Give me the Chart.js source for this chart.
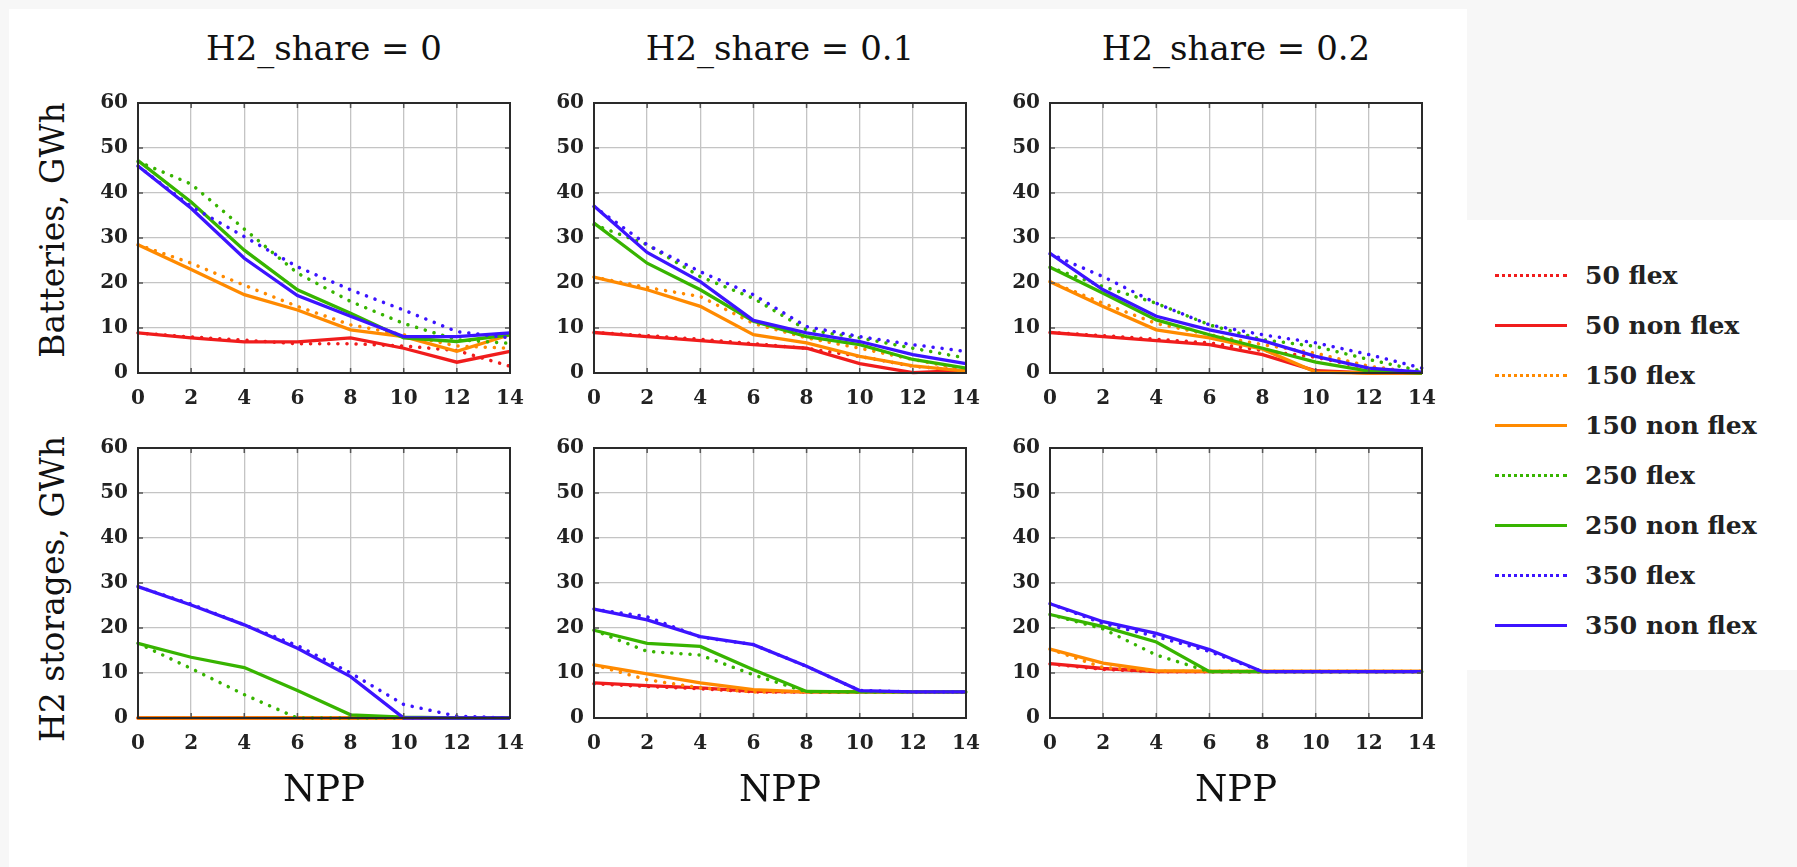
<!DOCTYPE html>
<html>
<head>
<meta charset="utf-8">
<script src="https://cdn.jsdelivr.net/npm/chart.js@4.4.1/dist/chart.umd.min.js"></script>
<style>
  body { margin: 0; background: #f7f7f7; width: 1797px; height: 867px; overflow: hidden; position: relative; font-family: "DejaVu Serif", serif; }
  #sheet { position: absolute; left: 9px; top: 9px; width: 1458px; height: 858px; background: #fff; }
  #legendBox { position: absolute; left: 1467px; top: 220px; width: 330px; height: 450px; background: #fff; }
  .panel { position: absolute; }
  .title { position: absolute; font-size: 34px; color: #111; transform: translate(-50%, -50%); white-space: nowrap; }
  .npp { position: absolute; font-size: 37px; color: #111; transform: translate(-50%, -50%); white-space: nowrap; }
  .ytitle { position: absolute; font-size: 33px; color: #111; transform: translate(-50%, -50%) rotate(-90deg); white-space: nowrap; }
  .legItem { position: absolute; left: 1495px; height: 30px; display: flex; align-items: center; font-size: 25px; font-weight: bold; color: #222; }
  .legLine { width: 72px; margin-right: 18px; }
</style>
</head>
<body>
<div id="sheet"></div>
<div id="legendBox"></div>
<div id="root"></div>
<script>
// x values (NPP) and labels
const npp = [0, 2, 4, 6, 8, 10, 12, 14];
const seriesNames = ['50 flex', '50 non flex', '150 flex', '150 non flex', '250 flex', '250 non flex', '350 flex', '350 non flex'];
const seriesColors = ['#f01c1c', '#f01c1c', '#ff8a00', '#ff8a00', '#37b400', '#37b400', '#3c14ff', '#3c14ff'];
const shareTitles = ['H2_share = 0', 'H2_share = 0.1', 'H2_share = 0.2'];
const rowTitles = ['Batteries, GWh', 'H2 storages, GWh'];
const yTicks = [0, 10, 20, 30, 40, 50, 60];

// Batteries, GWh  (rows: 50 flex, 50 non flex, 150 flex, 150 non flex, 250 flex, 250 non flex, 350 flex, 350 non flex)
const battH0 = [
  [8.9, 8.0, 7.3, 6.5, 6.5, 6.0, 5.0, 1.5],
  [8.9, 7.8, 6.9, 6.9, 7.8, 5.5, 2.4, 4.8],
  [28.5, 24.4, 19.5, 14.8, 10.7, 8.5, 6.0, 5.5],
  [28.5, 23.0, 17.4, 14.0, 9.6, 8.1, 4.8, 8.5],
  [47.0, 42.0, 32.0, 22.2, 15.9, 11.0, 7.4, 6.6],
  [47.2, 38.0, 27.3, 18.5, 13.3, 7.8, 7.0, 8.5],
  [46.0, 37.0, 30.3, 23.6, 18.5, 14.0, 9.2, 7.8],
  [46.0, 36.6, 25.5, 17.2, 12.6, 8.1, 8.1, 8.9]
];
const battH1 = [
  [9.0, 8.3, 7.5, 6.5, 5.5, 3.7, 1.5, 0.5],
  [9.0, 8.1, 7.2, 6.3, 5.5, 2.1, 0.1, 0.6],
  [21.3, 19.0, 17.0, 11.0, 7.8, 5.5, 3.0, 0.7],
  [21.3, 18.5, 14.8, 8.5, 6.7, 3.7, 1.6, 0.4],
  [33.0, 28.5, 21.4, 16.6, 9.6, 7.8, 5.5, 3.3],
  [33.3, 24.4, 18.5, 11.5, 8.1, 6.3, 3.0, 1.1],
  [37.0, 28.5, 22.5, 17.4, 10.3, 8.1, 6.3, 4.8],
  [37.1, 26.8, 20.3, 11.7, 8.9, 7.0, 4.1, 2.1]
];
const battH2 = [
  [9.0, 8.3, 7.5, 6.7, 5.0, 3.5, 1.0, 0.0],
  [9.0, 8.1, 7.2, 6.3, 4.1, 0.5, 0.0, 0.0],
  [20.3, 15.5, 11.0, 8.5, 6.3, 4.4, 1.5, 0.0],
  [20.3, 14.8, 9.6, 7.8, 5.3, 0.2, 0.0, 0.0],
  [23.5, 19.2, 15.5, 10.7, 7.4, 5.9, 3.0, 0.4],
  [23.5, 17.7, 11.8, 8.5, 5.5, 2.4, 0.4, 0.0],
  [26.5, 21.4, 15.5, 10.7, 8.5, 6.7, 4.1, 1.1],
  [26.6, 18.5, 12.6, 9.6, 7.2, 3.7, 1.1, 0.2]
];

// H2 storages, GWh
const h2H0 = [
  [0, 0, 0, 0, 0, 0, 0, 0],
  [0, 0, 0, 0, 0, 0, 0, 0],
  [0, 0, 0, 0, 0, 0, 0, 0],
  [0, 0, 0, 0, 0, 0, 0, 0],
  [16.6, 11.0, 5.2, 0, 0, 0, 0, 0],
  [16.6, 13.5, 11.2, 6.1, 0.7, 0.2, 0, 0],
  [29.2, 25.3, 20.7, 16.1, 10.0, 3.0, 0.4, 0],
  [29.2, 25.1, 20.7, 15.5, 9.2, 0, 0, 0]
];
const h2H1 = [
  [7.6, 7.0, 6.5, 5.8, 5.8, 5.8, 5.8, 5.8],
  [7.8, 7.2, 6.7, 5.9, 5.8, 5.8, 5.8, 5.8],
  [11.8, 8.5, 6.7, 5.8, 5.8, 5.8, 5.8, 5.8],
  [11.8, 9.8, 7.8, 6.3, 5.8, 5.8, 5.8, 5.8],
  [19.5, 14.8, 14.0, 9.6, 5.8, 5.8, 5.8, 5.8],
  [19.5, 16.6, 15.9, 10.7, 5.9, 5.8, 5.8, 5.8],
  [24.2, 22.5, 18.0, 16.3, 11.5, 6.1, 5.8, 5.8],
  [24.2, 21.8, 18.1, 16.3, 11.5, 6.1, 5.8, 5.8]
];
const h2H2 = [
  [12.0, 10.8, 10.3, 10.3, 10.3, 10.3, 10.3, 10.3],
  [12.1, 11.0, 10.3, 10.3, 10.3, 10.3, 10.3, 10.3],
  [15.3, 11.2, 10.4, 10.4, 10.4, 10.4, 10.4, 10.4],
  [15.3, 12.2, 10.5, 10.4, 10.4, 10.4, 10.4, 10.4],
  [23.0, 19.8, 14.0, 10.3, 10.3, 10.3, 10.3, 10.3],
  [23.0, 20.3, 16.9, 10.3, 10.3, 10.3, 10.3, 10.3],
  [25.4, 21.0, 18.1, 14.8, 10.3, 10.3, 10.3, 10.3],
  [25.4, 21.4, 18.8, 15.2, 10.3, 10.3, 10.3, 10.3]
];

const panels = [[battH0, battH1, battH2], [h2H0, h2H1, h2H2]];

// layout of the plot areas
const plotLeft = [138, 594, 1050];
const plotTop = [103, 448];
const plotW = 372, plotH = 270;
const padL = 52, padT = 14, padR = 22, padB = 50;

const root = document.getElementById('root');

// frame + inner tick marks, like pgfplots
const framePlugin = {
  id: 'frame',
  afterDraw(chart) {
    const { ctx, chartArea: a, scales } = chart;
    ctx.save();
    ctx.strokeStyle = '#555';
    ctx.lineWidth = 1.5;
    ctx.beginPath();
    scales.x.ticks.forEach(t => {
      const px = scales.x.getPixelForValue(t.value);
      ctx.moveTo(px, a.bottom); ctx.lineTo(px, a.bottom - 5);
      ctx.moveTo(px, a.top); ctx.lineTo(px, a.top + 5);
    });
    scales.y.ticks.forEach(t => {
      const py = scales.y.getPixelForValue(t.value);
      ctx.moveTo(a.left, py); ctx.lineTo(a.left + 5, py);
      ctx.moveTo(a.right, py); ctx.lineTo(a.right - 5, py);
    });
    ctx.stroke();
    ctx.strokeStyle = '#2a2a2a';
    ctx.lineWidth = 2;
    ctx.strokeRect(a.left, a.top, a.right - a.left, a.bottom - a.top);
    ctx.restore();
  }
};

panels.forEach((row, r) => {
  row.forEach((rows, c) => {
    const div = document.createElement('div');
    div.className = 'panel';
    div.style.left = (plotLeft[c] - padL) + 'px';
    div.style.top = (plotTop[r] - padT) + 'px';
    div.style.width = (plotW + padL + padR) + 'px';
    div.style.height = (plotH + padT + padB) + 'px';
    const canvas = document.createElement('canvas');
    div.appendChild(canvas);
    root.appendChild(div);

    const datasets = rows.map((vals, i) => {
      const dotted = i % 2 === 0;
      return {
        label: seriesNames[i],
        data: npp.map((x, k) => ({ x: x, y: vals[k] })),
        borderColor: seriesColors[i],
        borderWidth: dotted ? 3.5 : 3.3,
        borderDash: dotted ? [0.1, 9] : [],
        borderCapStyle: dotted ? 'round' : 'butt',
        pointRadius: 0,
        tension: 0,
        clip: false,
        order: 8 - i
      };
    });

    new Chart(canvas, {
      type: 'line',
      data: { datasets: datasets },
      plugins: [framePlugin],
      options: {
        responsive: true,
        maintainAspectRatio: false,
        animation: false,
        layout: { padding: { top: padT, right: padR, left: 0, bottom: 0 } },
        plugins: { legend: { display: false }, tooltip: { enabled: false } },
        scales: {
          x: {
            type: 'linear', min: 0, max: 14,
            afterFit: s => { s.height = padB; s.paddingLeft = 0; s.paddingRight = 0; },
            ticks: { stepSize: 2, padding: 14, color: '#222', font: { family: 'DejaVu Serif', size: 20, weight: 'bold' } },
            grid: { color: '#c4c4c4', lineWidth: 1.3, drawTicks: false },
            border: { display: false }
          },
          y: {
            min: 0, max: 60,
            afterFit: s => { s.width = padL; s.paddingTop = 0; s.paddingBottom = 0; },
            afterBuildTicks: s => { s.ticks = yTicks.map(v => ({ value: v })); },
            ticks: { padding: 10, color: '#222', font: { family: 'DejaVu Serif', size: 20, weight: 'bold' } },
            grid: { color: '#c4c4c4', lineWidth: 1.3, drawTicks: false },
            border: { display: false }
          }
        }
      }
    });
  });
});

// panel titles, axis titles
function addText(cls, text, x, y) {
  const d = document.createElement('div');
  d.className = cls;
  d.textContent = text;
  d.style.left = x + 'px';
  d.style.top = y + 'px';
  root.appendChild(d);
}
shareTitles.forEach((t, c) => addText('title', t, plotLeft[c] + plotW / 2, 48));
rowTitles.forEach((t, r) => addText('ytitle', t, 52, plotTop[r] + plotH / 2 - 8 + r * 14));
plotLeft.forEach(x => addText('npp', 'NPP', x + plotW / 2, 788));

// legend
seriesNames.forEach((name, i) => {
  const item = document.createElement('div');
  item.className = 'legItem';
  item.style.top = (260 + i * 50) + 'px';
  const line = document.createElement('div');
  line.className = 'legLine';
  line.style.borderTop = (i % 2 === 0 ? '3px dotted ' : '3px solid ') + seriesColors[i];
  item.appendChild(line);
  const label = document.createElement('span');
  label.textContent = name;
  item.appendChild(label);
  root.appendChild(item);
});
</script>
</body>
</html>
